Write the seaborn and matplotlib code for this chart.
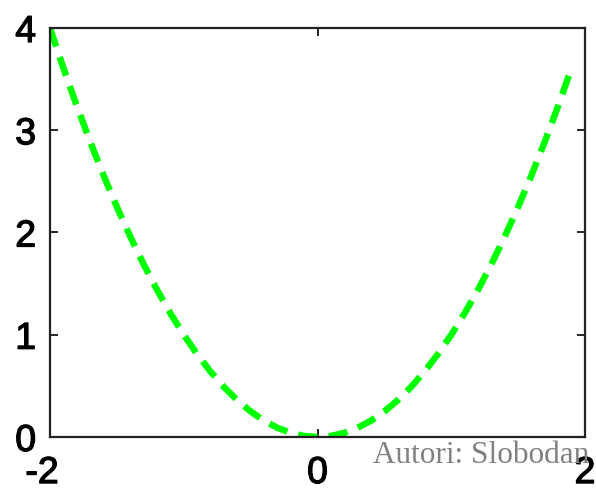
import matplotlib
matplotlib.use("Agg")
import matplotlib.pyplot as plt
import matplotlib.transforms as mtransforms
import matplotlib.patheffects as pe
import seaborn as sns
import pandas as pd

x_values = [-2.0, -1.9, -1.8, -1.7, -1.6, -1.5, -1.4, -1.3, -1.2, -1.1,
            -1.0, -0.9, -0.8, -0.7, -0.6, -0.5, -0.4, -0.3, -0.2, -0.1,
            0.0, 0.1, 0.2, 0.3, 0.4, 0.5, 0.6, 0.7, 0.8, 0.9,
            1.0, 1.1, 1.2, 1.3, 1.4, 1.5, 1.6, 1.7, 1.8, 1.9]
y_values = [4.00, 3.61, 3.24, 2.89, 2.56, 2.25, 1.96, 1.69, 1.44, 1.21,
            1.00, 0.81, 0.64, 0.49, 0.36, 0.25, 0.16, 0.09, 0.04, 0.01,
            0.00, 0.01, 0.04, 0.09, 0.16, 0.25, 0.36, 0.49, 0.64, 0.81,
            1.00, 1.21, 1.44, 1.69, 1.96, 2.25, 2.56, 2.89, 3.24, 3.61]
x_ticks = [-2, 0, 2]
y_ticks = [0, 1, 2, 3, 4]
watermark = "Autori: Slobodan"

sns.set_style("white")
plt.rcParams['font.family'] = ['Liberation Sans', 'DejaVu Sans']

df = pd.DataFrame({"x": x_values, "y": y_values})

fig = plt.figure(figsize=(5.96, 4.90), dpi=100)
ax = fig.add_axes([50/596, 53/490, 535/596, 409/490])

sns.lineplot(data=df, x="x", y="y", ax=ax, color="#00ff00", linewidth=4.7,
             dashes=False, estimator=None, sort=False)
for line in ax.get_lines():
    line.set_dashes((3.0, 1.7))
    line.set_dash_capstyle("butt")

ax.set_xlim(-2, 2)
ax.set_ylim(0, 4)
ax.set_xticks(x_ticks)
ax.set_yticks(y_ticks)
ax.set_xticklabels([str(t) for t in x_ticks])
ax.set_yticklabels([str(t) for t in y_ticks])
ax.set_xlabel("")
ax.set_ylabel("")
ax.tick_params(direction="in", length=6, width=1.2, color="black",
               top=True, right=True, bottom=True, left=True,
               labelsize=27, labelcolor="black")
ax.tick_params(axis="x", pad=13)
ax.tick_params(axis="y", pad=10)
for s in ax.spines.values():
    s.set_visible(True)
    s.set_color("#222222")
    s.set_linewidth(1.6)

for lab in ax.get_xticklabels() + ax.get_yticklabels():
    lab.set_path_effects([pe.withStroke(linewidth=0.9, foreground="black")])

# shift the "-2" label slightly left like the reference
first = ax.get_xticklabels()[0]
first.set_transform(first.get_transform() +
                    mtransforms.ScaledTranslation(-8/100, 0, fig.dpi_scale_trans))

fig.text(589/596, 1 - 463/490, watermark, ha="right", va="baseline",
         fontsize=22.5, color="#808080", family="Liberation Serif")

fig.savefig("out.png", dpi=100)
